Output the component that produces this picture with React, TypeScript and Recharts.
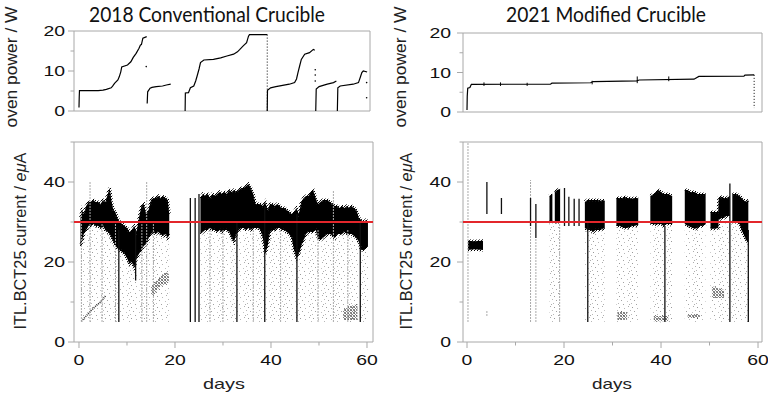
import React from 'react';
import { ComposedChart, Line, Area, Scatter, XAxis, YAxis, ReferenceLine, ReferenceArea } from 'recharts';

// ---------- 2018 conventional crucible ----------
// oven power [day, W]; a null value breaks the trace between refills
const power2018 = [
  [0, 0.9], [0.05, 3.5], [0.1, 5.1], [2, 5.1], [4, 5.1], [5, 5.2], [5.7, 5.4], [6.7, 5.8], [7.0, 6.2],
  [7.4, 6.9], [8.1, 7.75], [8.4, 8.6], [8.7, 9.8], [8.9, 11.0], [10.1, 11.5], [10.8, 12.3], [11.3, 13.4],
  [11.9, 14.4], [12.5, 15.7], [12.8, 16.5], [13.0, 16.6], [13.3, 18.2], [14.1, 18.6], [14.1, null],
  [14.2, 1.9], [14.3, 4.8], [14.8, 5.7], [15.2, 5.9], [16.1, 6.1], [17.4, 6.25], [18.2, 6.5], [19.1, 6.7], [19.1, null],
  [22.1, 0], [22.15, 4.5], [22.8, 4.6], [23.2, 5.8], [23.9, 6.25], [24.3, 7.5], [24.6, 8.75], [25.0, 10.5],
  [25.3, 12.1], [26, 12.75], [28, 12.9], [29.5, 13.3], [30.8, 13.75], [32.2, 14.2], [33.0, 14.8], [33.5, 15.4],
  [34.2, 16.3], [34.9, 17.1], [35.3, 18.7], [35.5, 19.1], [39.2, 19.1], [39.2, null],
  [39.2, 0], [39.25, 5.2], [39.9, 5.8], [41, 6.1], [42.4, 6.4], [43.8, 6.7], [44.9, 7.1], [45.3, 8.0],
  [45.6, 9.6], [46.0, 11.5], [46.3, 12.9], [47, 14.2], [48, 14.6], [48.8, 15.4], [49.1, 15.2], [49.1, null],
  [49.3, 0], [49.4, 5.5], [50, 6.1], [51.7, 6.7], [53, 7.1], [53.6, 7.5], [53.6, null],
  [53.8, 0], [53.9, 5.8], [54.4, 6.25], [57.1, 6.7], [58.2, 7.1], [58.6, 8.5], [58.9, 9.6], [59.2, 10], [60, 9.75],
];
const powerDrop2018 = [[39.2, 19.1], [39.2, 0]];
const powerDots2018 = [[14.0, 11.1], [49.2, 7.5], [49.2, 9], [49.2, 10.3], [59.9, 7.1], [59.9, 3.3]];

// beam current core band [day, low, high] in eμA
const band2018 = [
  [0.3, 24, 31], [0.6, 25, 33], [1.0, 27, 32], [1.5, 28, 34], [2.0, 29, 35], [2.5, 29, 35], [3.0, 29.5, 35.5],
  [3.5, 29, 35], [4.0, 29, 35], [4.5, 28.5, 34.5], [5.0, 29, 35.5], [5.5, 28, 35], [6.0, 27.5, 37], [6.4, 27, 38.5],
  [6.8, 26, 35], [7.2, 25, 33], [7.6, 24, 32.5], [8.0, 23.5, 31], [8.5, 23, 30], [9.0, 22.5, 29.5], [9.5, 22, 29],
  [10.0, 21, 28.5], [10.5, 19.5, 27.5], [11.0, 20, 28], [11.5, 18.5, 29], [12.0, 21, 27.5], [12.5, 22, 31],
  [13.0, 23, 34], [13.5, 24, 34.5], [14.0, 24.5, 32], [14.5, 26, 33], [15.0, 27, 35.5], [15.5, 27.5, 36],
  [16.0, 27, 36], [16.5, 27.5, 36.5], [17.0, 27, 36], [17.5, 26.5, 36.5], [18.0, 27, 36], [18.5, 26, 35.5],
  [18.8, 27, 32], [18.8, null, null],
  [25.3, 27, 36], [25.8, 27.5, 37], [26.3, 28, 36.5], [26.8, 28, 37], [27.3, 28.5, 36], [27.8, 28, 37],
  [28.3, 28, 36.5], [28.8, 27.5, 37], [29.3, 28, 37.5], [29.8, 27.5, 37], [30.3, 28, 37.5], [30.8, 28, 37],
  [31.3, 27.5, 38], [31.8, 26, 37.5], [32.3, 25, 38], [32.8, 27, 37.5], [33.3, 28, 38], [33.8, 28.5, 38.5],
  [34.3, 28.5, 38.5], [34.8, 28, 39], [35.3, 28.5, 39.5], [35.8, 28, 38.5], [36.3, 28.5, 37], [36.8, 28.5, 34.5],
  [37.3, 28.5, 34.5], [37.8, 28, 34.5], [38.3, 26, 34], [38.8, 22, 35], [39.3, 24, 33], [39.8, 27.5, 34.5],
  [40.3, 28, 34.5], [40.8, 28, 34], [41.3, 28.5, 34.5], [41.8, 28.5, 34], [42.3, 28, 33.5], [42.8, 28, 33.5],
  [43.3, 27.5, 33], [43.8, 27, 32.5], [44.3, 26, 32], [44.8, 23, 32.5], [45.3, 21, 33.5], [45.8, 22, 32],
  [46.3, 24, 35], [46.8, 25.5, 36], [47.3, 27, 36.5], [47.8, 27.5, 36.5], [48.3, 27.5, 37.5], [48.8, 27.5, 38],
  [49.3, 28, 36], [49.8, 26, 34.5], [50.3, 25.5, 35], [50.8, 26, 35.5], [51.3, 26.5, 35.5], [51.8, 27, 35.5],
  [52.3, 27, 35], [52.8, 26.5, 34.5], [53.3, 26, 34], [53.8, 27, 34], [54.3, 27, 33.5], [54.8, 27, 34],
  [55.3, 27.5, 33.5], [55.8, 27, 34], [56.3, 27, 33.5], [56.8, 27, 34], [57.3, 26.5, 33.5], [57.8, 26, 33],
  [58.3, 25, 31], [58.8, 23, 30.5], [59.3, 23, 30], [59.8, 23.5, 30.5], [60.2, 24, 30],
];
const darkSpikes2018 = [
  [8.3, 5, 28], [11.8, 15.4, 28], [23.2, 5, 36], [24.2, 5, 36], [25.0, 5, 37], [32.9, 5, 30],
  [38.7, 5, 34], [45.4, 5, 32], [58.6, 5, 30],
];
const faintSpikes2018 = [
  [0.5, 5, 33], [2.3, 5, 40], [4.8, 5, 30], [7.6, 5, 30], [13.1, 5, 30], [14.1, 5, 40], [15.5, 5, 30],
  [27.3, 5, 28], [30.0, 5, 28], [36.3, 5, 28], [42.0, 5, 28], [49.8, 5, 28], [53.0, 5, 38], [56.0, 5, 28],
];
const clusters2018 = [
  [15.0, 11.5, 14], [16.0, 12.5, 15], [17.0, 14, 16.5], [18.0, 14.5, 17.5], [18.7, 15, 17], [18.7, null, null],
  [55.0, 5.5, 8], [56.5, 5.5, 9], [58.0, 5.5, 9.5],
];
const trail2018 = [[0.5, 5.2], [1.5, 6.5], [2.5, 7.8], [3.5, 9], [4.5, 10], [5.5, 11.5]];

// ---------- 2021 modified crucible ----------
const power2021 = [
  [0, 0.5], [0.05, 4], [0.15, 6], [0.6, 6.2], [0.9, 7.0], [17.2, 7.05], [17.5, 7.3], [25.5, 7.4], [26, 7.7],
  [35, 7.9], [35.5, 8.1], [46.8, 8.3], [47.8, 9.0], [57.1, 9.1], [57.3, 9.35], [59.2, 9.4],
];
const powerDrop2021 = [[59.2, 9.4], [59.2, 1]];
const powerSpikes2021 = [[3.5, 6.6, 7.5], [6.9, 6.6, 7.5], [12.4, 6.6, 7.4], [25.8, 7.0, 7.9], [35.1, 7.3, 9.0], [41.6, 7.8, 9.0]];

const band2021 = [
  [0.2, 23, 25.3], [1.5, 23.2, 25.2], [3.3, 23, 25.3], [3.3, null, null],
  [17.0, 30, 36.5], [17.6, 30, 37], [17.6, null, null],
  [18.1, 30, 37.5], [18.6, 30, 38], [19.2, 30, 38.3], [19.2, null, null],
  [24.3, 28.5, 35], [24.8, 28, 35.5], [25.5, 28, 35.5], [26.0, 27.5, 35.5], [26.5, 28, 35.5], [27.0, 28, 35.5],
  [27.5, 28, 35.3], [28.0, 28.3, 35.5], [28.4, 28.5, 35.3], [28.4, null, null],
  [30.8, 29, 36], [31.5, 29, 36], [32.0, 28.7, 36], [32.5, 28.5, 36.3], [33.0, 28.5, 36], [33.5, 28.7, 36],
  [34.0, 29, 35.8], [34.5, 29, 36], [35.3, 29.3, 36], [35.3, null, null],
  [37.8, 29.5, 36.5], [38.5, 29.5, 37], [39.0, 29.3, 37.5], [39.5, 29.5, 38], [40.0, 29.5, 37.5], [40.5, 29, 37],
  [41.0, 29.5, 37], [41.5, 29.5, 37], [42.3, 29.5, 36.5], [42.3, null, null],
  [44.9, 29.5, 38], [45.5, 29, 38], [46.0, 28.8, 37.5], [46.5, 28.5, 37.5], [47.0, 28.3, 37.5], [47.5, 28.5, 37],
  [48.0, 29, 37], [48.5, 29, 37], [49.2, 29.5, 37], [49.2, null, null],
  [50.2, 28.3, 32.5], [51.0, 28.3, 32.5], [51.8, 28.5, 32.5], [51.9, 30.5, 36], [52.5, 31, 36.3], [53.0, 31, 36],
  [53.5, 31.5, 36], [54.2, 31.5, 36.5], [54.2, null, null],
  [54.7, 30, 37], [55.5, 30, 37], [56.2, 29.5, 36.5], [56.6, 28, 36], [57.0, 27, 35.5], [57.5, 25.5, 35], [58.0, 25, 35.5],
];
const sparseTop2021 = [
  [17.0, 30], [19.2, 30], [19.2, null], [24.3, 28.5], [28.4, 28.5], [28.4, null], [30.8, 29], [35.3, 29.3], [35.3, null],
  [37.8, 29.5], [42.3, 29.5], [42.3, null], [44.9, 29.5], [49.2, 29.5], [49.2, null], [50.2, 28.3], [54.2, 30],
  [56.2, 29.5], [57.0, 27], [58.0, 25],
];
const darkSpikes2021 = [
  [4.1, 32, 40], [7.1, 32, 36], [13.1, 29, 36], [14.2, 26, 34.5], [20.1, 29, 38.5], [21.0, 29, 36.3],
  [22.1, 29, 35.8], [23.1, 29, 35.8], [24.9, 5, 30], [40.8, 5, 29], [54.2, 5, 39.6], [58.0, 5, 28],
];
const faintSpikes2021 = [[0.2, 5, 50], [4.1, 6.5, 8], [13.1, 5, 40.5], [14.2, 5, 26], [19.1, 5, 30]];
const clusters2021 = [
  [31.0, 5.5, 7.5], [33.0, 5.5, 7.5], [33.0, null, null], [38.5, 5.2, 6.5], [41.5, 5.2, 6.5], [41.5, null, null],
  [45.5, 6, 7], [48.0, 6, 7], [48.0, null, null], [50.5, 11, 14], [53.0, 11, 13],
];

const FLOOR = 5; // current readings are cut below 5 eμA
const TARGET = 30;
const FRAME = '#a8a8a8';
const RED = '#e3262b';
const SANS = '"Liberation Sans", Arial, sans-serif';

const pts = (rows: any[]) => rows.map(([day, v]) => ({ day, v }));
const band = (rows: any[]) => rows.map(([day, lo, hi]) => ({ day, lo, hi }));
const spikes = (rows: any[]) =>
  rows.flatMap(([day, lo, hi]) => [{ day, v: lo }, { day, v: hi }, { day, v: null }]);
const range = (r: any) => (r.lo == null ? null : [r.lo, r.hi]);
const below = (r: any) => (r.lo == null ? null : [FLOOR, r.lo]);
const belowTop = (r: any) => (r.v == null ? null : [FLOOR, r.v]);

// stipple fills standing in for the scattered single readings
const Patterns = () => (
  <svg width={0} height={0} style={{ position: 'absolute' }}>
    <defs>
      <pattern id="sparse" width={13} height={11} patternUnits="userSpaceOnUse">
        <rect x={1} y={1} width={1} height={1} fill="#555" />
        <rect x={6} y={2} width={1} height={1} fill="#888" />
        <rect x={10} y={0} width={1} height={1} fill="#777" />
        <rect x={3} y={5} width={1} height={1} fill="#666" />
        <rect x={9} y={6} width={1} height={1} fill="#999" />
        <rect x={12} y={4} width={1} height={1} fill="#888" />
        <rect x={0} y={8} width={1} height={1} fill="#888" />
        <rect x={5} y={9} width={1} height={1} fill="#666" />
        <rect x={11} y={9} width={1} height={1} fill="#777" />
      </pattern>
      <pattern id="dense" width={3} height={3} patternUnits="userSpaceOnUse">
        <rect x={0} y={0} width={1} height={1} fill="#111" />
        <rect x={2} y={0} width={1} height={1} fill="#555" />
        <rect x={1} y={1} width={1} height={1} fill="#333" />
        <rect x={0} y={2} width={1} height={1} fill="#444" />
        <rect x={2} y={2} width={1} height={1} fill="#222" />
      </pattern>
      <pattern id="fuzz" width={3} height={3} patternUnits="userSpaceOnUse">
        <rect x={0} y={0} width={1} height={1} fill="#000" />
        <rect x={2} y={1} width={1} height={1} fill="#000" />
        <rect x={1} y={2} width={1} height={1} fill="#222" />
      </pattern>
    </defs>
  </svg>
);

const YTick = (props: any) => {
  const { x, y, payload, major, gap } = props;
  const isMajor = major.includes(payload.value);
  const label = String(payload.value);
  return (
    <g>
      <line x1={x - (isMajor ? 6 : 3.5)} x2={x} y1={y} y2={y} stroke={FRAME} />
      {isMajor && (
        <text x={x - gap} y={y + 5.3} textAnchor="end" fontSize={15} fontFamily={SANS} fill="#111"
          textLength={label.length * 10.8} lengthAdjust="spacingAndGlyphs">{label}</text>
      )}
    </g>
  );
};

const XTick = (props: any) => {
  const { x, y, payload } = props;
  const isMajor = payload.value % 20 === 0;
  const label = String(payload.value);
  return (
    <g>
      <line x1={x} x2={x} y1={y} y2={y + (isMajor ? 6 : 3.5)} stroke={FRAME} />
      {isMajor && (
        <text x={x} y={y + 23} textAnchor="middle" fontSize={15} fontFamily={SANS} fill="#111"
          textLength={label.length * 10.8} lengthAdjust="spacingAndGlyphs">{label}</text>
      )}
    </g>
  );
};

const dot = (p: any) => <circle cx={p.cx} cy={p.cy} r={0.8} fill="#000" />;

type PowerProps = { domain: number[]; yWidth: number; top: number; right: number; gap: number; data: any[]; drop: any[]; extraDots?: any[]; extraSpikes?: any[] };

const PowerPanel = ({ domain, yWidth, top, right, gap, data, drop, extraDots, extraSpikes }: PowerProps) => (
  <ComposedChart width={384} height={125} margin={{ top, right, bottom: 0, left: 0 }}>
    <XAxis type="number" dataKey="day" domain={domain} allowDataOverflow tick={false} tickLine={false} axisLine={false} height={125 - top - 80 + (top === 33 ? 1 : 0)} />
    <YAxis type="number" dataKey="v" domain={[0, 20]} allowDataOverflow ticks={[0, 5, 10, 15, 20]} interval={0}
      width={yWidth} tickSize={0} tickMargin={0} axisLine={false}
      tick={(p: any) => <YTick {...p} major={[0, 10, 20]} gap={gap} />} />
    <ReferenceArea x1={domain[0]} x2={domain[1]} y1={0} y2={20} fill="none" stroke={FRAME} ifOverflow="visible" />
    <Line data={pts(data)} dataKey="v" stroke="#000" strokeWidth={1.2} dot={false} isAnimationActive={false} />
    <Line data={pts(drop)} dataKey="v" stroke="#000" strokeWidth={1} strokeDasharray="1 2" dot={false} isAnimationActive={false} />
    {extraSpikes && <Line data={spikes(extraSpikes)} dataKey="v" stroke="#000" strokeWidth={1} dot={false} isAnimationActive={false} />}
    {extraDots && <Scatter data={pts(extraDots)} dataKey="v" shape={dot} isAnimationActive={false} />}
  </ComposedChart>
);

type CurrentProps = { domain: number[]; yWidth: number; right: number; gap: number; children?: React.ReactNode };

const CurrentPanel = ({ domain, yWidth, right, gap, children }: CurrentProps) => (
  <ComposedChart width={384} height={266} margin={{ top: 12, right, bottom: 0, left: 0 }}>
    <XAxis type="number" dataKey="day" domain={domain} allowDataOverflow ticks={[0, 10, 20, 30, 40, 50, 60]} interval={0}
      height={54} tickSize={0} tickMargin={0} axisLine={false} tick={(p: any) => <XTick {...p} />} />
    <YAxis type="number" dataKey="v" domain={[0, 50]} allowDataOverflow ticks={[0, 10, 20, 30, 40, 50]} interval={0}
      width={yWidth} tickSize={0} tickMargin={0} axisLine={false}
      tick={(p: any) => <YTick {...p} major={[0, 20, 40]} gap={gap} />} />
    <ReferenceArea x1={domain[0]} x2={domain[1]} y1={0} y2={50} fill="none" stroke={FRAME} ifOverflow="visible" />
    {children}
    <ReferenceLine y={TARGET} stroke={RED} strokeWidth={2} ifOverflow="visible" />
  </ComposedChart>
);

const App = () => (
  <div style={{ position: 'absolute', left: 0, top: 0, width: 768, height: 396, background: '#fff', overflow: 'hidden' }}>
    <Patterns />
    <div style={{ position: 'absolute', left: 0, top: 0 }}>
      <PowerPanel domain={[-1.04, 60.6]} yWidth={74} top={31} right={14} gap={9} data={power2018} drop={powerDrop2018} extraDots={powerDots2018} />
    </div>
    <div style={{ position: 'absolute', left: 384, top: 0 }}>
      <PowerPanel domain={[-0.825, 60.82]} yWidth={79} top={33} right={6} gap={12} data={power2021} drop={powerDrop2021} extraSpikes={powerSpikes2021} />
    </div>
    <div style={{ position: 'absolute', left: 0, top: 130 }}>
      <CurrentPanel domain={[-1.04, 61.25]} yWidth={74} right={11} gap={9}>
        <Area data={band(band2018)} dataKey={below} stroke="none" fill="url(#sparse)" isAnimationActive={false} />
        <Line data={pts(trail2018)} dataKey="v" stroke="#333" strokeWidth={1.6} strokeDasharray="1 1" dot={false} isAnimationActive={false} />
        <Area data={band(clusters2018)} dataKey={range} stroke="url(#sparse)" strokeWidth={3} fill="url(#dense)" isAnimationActive={false} />
        <Line data={spikes(faintSpikes2018)} dataKey="v" stroke="#aaa" strokeWidth={1} strokeDasharray="2 1" dot={false} isAnimationActive={false} />
        <Area data={band(band2018)} dataKey={range} stroke="url(#fuzz)" strokeWidth={3} fill="#000" fillOpacity={1} isAnimationActive={false} />
        <Line data={spikes(darkSpikes2018)} dataKey="v" stroke="#111" strokeWidth={1.3} dot={false} isAnimationActive={false} />
      </CurrentPanel>
    </div>
    <div style={{ position: 'absolute', left: 384, top: 130 }}>
      <CurrentPanel domain={[-0.825, 60.82]} yWidth={79} right={6} gap={12}>
        <Area data={pts(sparseTop2021)} dataKey={belowTop} stroke="none" fill="url(#sparse)" isAnimationActive={false} />
        <Area data={band(clusters2021)} dataKey={range} stroke="url(#sparse)" strokeWidth={2} fill="url(#dense)" isAnimationActive={false} />
        <Line data={spikes(faintSpikes2021)} dataKey="v" stroke="#aaa" strokeWidth={1} strokeDasharray="2 1" dot={false} isAnimationActive={false} />
        <Area data={band(band2021)} dataKey={range} stroke="url(#fuzz)" strokeWidth={3} fill="#000" fillOpacity={1} isAnimationActive={false} />
        <Line data={spikes(darkSpikes2021)} dataKey="v" stroke="#111" strokeWidth={1.3} dot={false} isAnimationActive={false} />
      </CurrentPanel>
    </div>
    <svg width={768} height={396} style={{ position: 'absolute', left: 0, top: 0, pointerEvents: 'none' }}>
      <text x={207} y={22} textAnchor="middle" fontSize={21} fontFamily="Lato, sans-serif" fill="#111" textLength={236} lengthAdjust="spacingAndGlyphs">2018 Conventional Crucible</text>
      <text x={606} y={22} textAnchor="middle" fontSize={21} fontFamily="Lato, sans-serif" fill="#111" textLength={200} lengthAdjust="spacingAndGlyphs">2021 Modified Crucible</text>
      <text x={11} y={67} transform="rotate(-90 11 67)" textAnchor="middle" dominantBaseline="central" fontSize={16} fontFamily={SANS} fill="#222" textLength={121} lengthAdjust="spacingAndGlyphs">oven power / W</text>
      <text x={400} y={67} transform="rotate(-90 400 67)" textAnchor="middle" dominantBaseline="central" fontSize={16} fontFamily={SANS} fill="#222" textLength={121} lengthAdjust="spacingAndGlyphs">oven power / W</text>
      <text x={20} y={241} transform="rotate(-90 20 241)" textAnchor="middle" dominantBaseline="central" fontSize={16} fontFamily={SANS} fill="#222" textLength={177} lengthAdjust="spacingAndGlyphs">ITL.BCT25 current / <tspan fontStyle="italic">eμ</tspan>A</text>
      <text x={406} y={241} transform="rotate(-90 406 241)" textAnchor="middle" dominantBaseline="central" fontSize={16} fontFamily={SANS} fill="#222" textLength={177} lengthAdjust="spacingAndGlyphs">ITL.BCT25 current / <tspan fontStyle="italic">eμ</tspan>A</text>
      <text x={224} y={389} textAnchor="middle" fontSize={15} fontFamily={SANS} fill="#222" textLength={42} lengthAdjust="spacingAndGlyphs">days</text>
      <text x={612} y={389} textAnchor="middle" fontSize={15} fontFamily={SANS} fill="#222" textLength={40} lengthAdjust="spacingAndGlyphs">days</text>
    </svg>
  </div>
);

export default App;
